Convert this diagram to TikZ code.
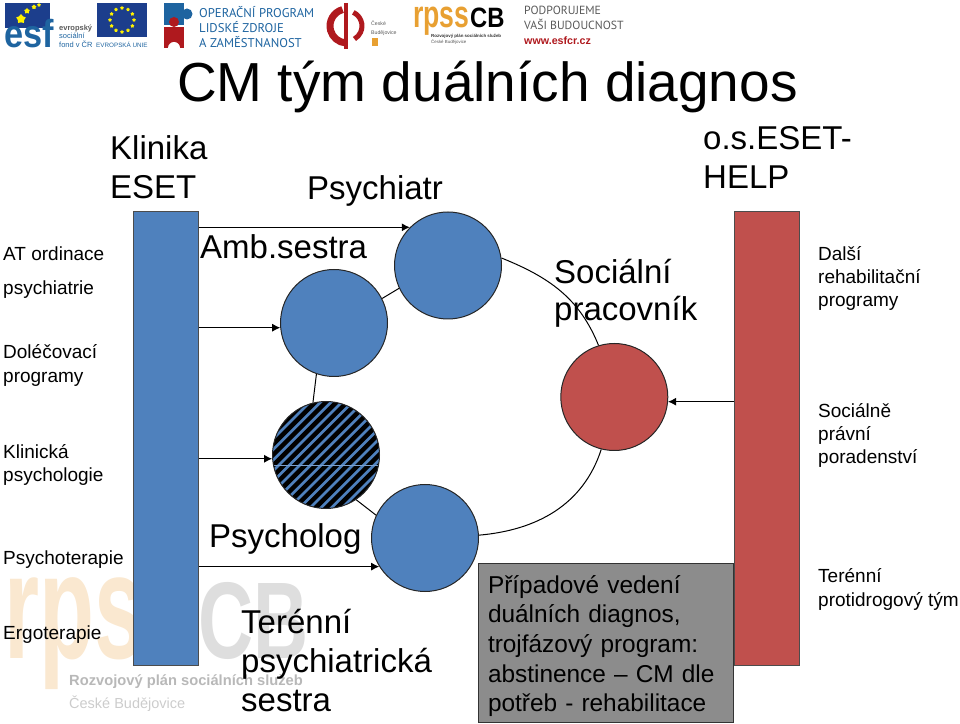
\documentclass[tikz,border=0pt]{standalone}
\usepackage{fontspec}
\setmainfont{Liberation Sans}
\newfontfamily\logosans{PT Sans}
\usepackage{xcolor}
\usetikzlibrary{arrows.meta, shapes.geometric}
\definecolor{cmblue}{RGB}{79,129,189}
\definecolor{cmred}{RGB}{192,80,77}
\definecolor{cmgray}{RGB}{140,140,140}
\definecolor{cmnavy}{RGB}{28,62,140}
\definecolor{cmsteel}{RGB}{30,100,160}
\definecolor{cmcrimson}{RGB}{175,25,30}
\definecolor{cmamber}{RGB}{232,160,50}
\definecolor{cmpeach}{RGB}{250,232,208}
\definecolor{cmsilver}{RGB}{222,222,222}
\definecolor{cmtext}{RGB}{90,90,90}
\tikzset{
  lblsmall/.style={anchor=base west, inner sep=0, font=\fontsize{19}{22}\selectfont},
  lblbig/.style={anchor=base west, inner sep=0, font=\fontsize{33}{39}\selectfont},
  logotxt/.style={anchor=base west, inner sep=0},
  squeezed/.style={transform shape, xscale=#1},
  teambar/.style={draw=black!70, line width=1pt, minimum width=65, minimum height=453, inner sep=0},
  teamcirc/.style={circle, draw=black!85, line width=1pt, minimum size=107, inner sep=0},
  arm/.style={black, line width=1pt, -{Latex[length=8,width=8]}},
  link/.style={black, line width=1pt},
  euflag/.style={star, star points=5, fill=#1, inner sep=0, minimum size=4},
}
\begin{document}
\begin{tikzpicture}[x=1pt, y=1pt]
\useasboundingbox (0,0) rectangle (960,723);

% ---- watermark ----
\node[logotxt, cmpeach, squeezed=0.6, font=\fontsize{150}{150}\bfseries\selectfont] (markrpss) at (4,65) {rpss};
\node[logotxt, cmsilver, squeezed=0.7, font=\fontsize{109}{109}\bfseries\selectfont] (markcb) at (198,65) {CB};
\node[logotxt, black!28, font=\fontsize{14.7}{18}\bfseries\selectfont] (markplan) at (69,38) {Rozvojový plán sociálních služeb};
\node[logotxt, black!20, font=\fontsize{14.5}{18}\selectfont] (marktown) at (69,15) {České Budějovice};

% ---- logos ----
% esf
\fill[cmnavy] (5,695) rectangle (50,720);
\node[logotxt, cmsteel, squeezed=0.88, font=\fontsize{39}{39}\bfseries\selectfont] (esfword) at (4,675) {esf};
\foreach \x/\y/\s [count=\i] in {21/704/10, 27/712/6, 34/716/5, 39/718/4}{
  \node[euflag=yellow, minimum size=\s] (esfstar\i) at (\x,\y) {};
}
\node[logotxt, cmtext, font=\fontsize{7.5}{9}\bfseries\selectfont] (esfa) at (59,692) {evropský};
\node[logotxt, cmsteel, font=\fontsize{7.5}{9}\selectfont] (esfb) at (59,684) {sociální};
\node[logotxt, cmsteel, font=\fontsize{7.5}{9}\selectfont] (esfc) at (59,675) {fond v ČR};
% eu flag
\fill[cmnavy] (97,686) rectangle (147,720);
\foreach \a [count=\i] in {0,30,...,330}{
  \node[euflag=yellow] (eustar\i) at ({122+12*cos(\a)},{703+12*sin(\a)}) {};
}
\node[logotxt, cmsteel, font=\fontsize{6.3}{8}\selectfont] (eutxt) at (96,675) {EVROPSKÁ UNIE};
% operacni program
\fill[cmsteel] (164,698) rectangle (184,720);
\fill[cmsteel] (187,709) circle (5.5);
\fill[cmcrimson] (164,675) rectangle (184,696);
\fill[cmcrimson] (174,701) circle (5);
\fill[white] (174,675) circle (6);
\foreach \y/\lbl [count=\i] in {705/OPERAČNÍ PROGRAM, 690/LIDSKÉ ZDROJE, 675/A ZAMĚSTNANOST}{
  \node[logotxt, cmsteel, font=\logosans\fontsize{12.7}{15}\selectfont] (optxt\i) at (199,\y) {\lbl};
}
% mesto
\draw[cmcrimson, line width=7] (342.6,713.4) arc[start angle=105, end angle=265, radius=17];
\draw[cmcrimson, line width=5] (353.3,710.6) arc[start angle=65, end angle=-60, radius=15];
\draw[cmcrimson, line width=4] (346,720) -- (346,674);
\node[logotxt, cmtext, font=\fontsize{5.2}{8}\selectfont] (cba) at (371,697) {České};
\node[logotxt, cmtext, font=\fontsize{5.2}{8}\selectfont] (cbb) at (371,688) {Budějovice};
\fill[cmamber] (372,677) rectangle (378,685);
% rpss
\node[logotxt, cmamber, squeezed=0.7, font=\fontsize{38}{38}\bfseries\selectfont] (rpssword) at (413,695) {rpss};
\node[logotxt, black, squeezed=0.85, font=\fontsize{28}{28}\bfseries\selectfont] (rpsscb) at (470,695) {CB};
\node[logotxt, black!80, font=\fontsize{4.4}{5}\bfseries\selectfont] (rpssa) at (431,685) {Rozvojový plán sociálních služeb};
\node[logotxt, cmtext, font=\fontsize{4.4}{5}\selectfont] (rpssb) at (431,679) {České Budějovice};
% podporujeme
\node[logotxt, cmtext, font=\logosans\fontsize{11.8}{15}\selectfont] (podpa) at (524,708) {PODPORUJEME};
\node[logotxt, cmtext, font=\logosans\fontsize{11.8}{15}\selectfont] (podpb) at (524,693) {VAŠI BUDOUCNOST};
\node[logotxt, cmcrimson, font=\fontsize{10.7}{14}\bfseries\selectfont] (podpc) at (524,678) {www.esfcr.cz};

% ---- title ----
\node[logotxt, font=\fontsize{55}{60}\selectfont] (title) at (177,621) {CM tým duálních diagnos};

% ---- team bars and circles ----
\node[teambar, fill=cmblue] (clinicbar) at (165.5,284.5) {};
\node[teambar, fill=cmred] (esetbar) at (767,284.5) {};

\node[teamcirc, fill=cmblue] (psychcirc) at (448,457.5) {};
\node[teamcirc, fill=cmblue] (nursecirc) at (334,400) {};
\node[teamcirc, fill=cmblue, path picture={
    \foreach \d in {-12,...,12}{
      \draw[black, line width=4.5, shift={(path picture bounding box.center)}]
        (\d*10.6-80,-80) -- (\d*10.6+80,80);
    }
    \draw[cmblue!75!white, line width=0.4, shift={(path picture bounding box.center)}] (-60,-10) -- (60,-10);
  }] (psycirc) at (326,268) {};
\node[teamcirc, fill=cmblue] (fieldcirc) at (425,185) {};
\node[teamcirc, fill=cmred] (socialcirc) at (614.3,326) {};

% arrows from the bars
\draw[arm] (clinicbar.east |- psychcirc.135) -- (psychcirc.135);
\draw[arm] (clinicbar.east |- nursecirc.185) -- (nursecirc.185);
\draw[arm] (clinicbar.east |- psycirc.184) -- (psycirc.184);
\draw[arm] (clinicbar.east |- fieldcirc.212) -- (fieldcirc.212);
\draw[arm] (esetbar.west |- socialcirc.355) -- (socialcirc.355);

% links round the ring
\draw[link] (nursecirc.27) -- (psychcirc.205);
\draw[link] (nursecirc.251) -- (psycirc.104);
\draw[link] (psycirc.304) -- (fieldcirc.155);
\draw[link] (fieldcirc.3) to[out=5, in=252] (socialcirc.256);
\draw[link] (psychcirc.8) to[out=-22, in=112] (socialcirc.107);

% ---- case box ----
\node[draw=black!80, fill=cmgray, line width=1pt, minimum width=255, minimum height=159, inner sep=0]
  (casebox) at (605.5,80.5) {};
\node[text width=235, inner sep=0, align=left, font=\fontsize{24.4}{29.7}\selectfont]
  (casetxt) at (605.5,77) {Případové vedení\\duálních diagnos,\\trojfázový program:\\abstinence – CM dle\\potřeb - rehabilitace};

% ---- big labels ----
\foreach \x/\y/\lbl [count=\i] in {
    110/563/Klinika,
    110/524/ESET,
    307/523/Psychiatr,
    200/464/Amb.sestra,
    554/439/Sociální,
    554/402/pracovník,
    703/573/{o.s.ESET-},
    703/534/HELP,
    209/176/Psycholog,
    241/90/Terénní,
    241/51/psychiatrická,
    241/12/sestra}{
  \node[lblbig] (biglbl\i) at (\x,\y) {\lbl};
}

% ---- small labels ----
\foreach \x/\y/\lbl [count=\i] in {
    3/462/AT ordinace,
    3/428/psychiatrie,
    3/364/Doléčovací,
    3/340/programy,
    3/264/Klinická,
    3/241/psychologie,
    3/159/Psychoterapie,
    3/84/Ergoterapie,
    818/462/Další,
    818/439/rehabilitační,
    818/416/programy,
    818/305/Sociálně,
    818/282/právní,
    818/259/poradenství,
    818/141/Terénní,
    818/117/protidrogový tým}{
  \node[lblsmall] (smalllbl\i) at (\x,\y) {\lbl};
}
\end{tikzpicture}
\end{document}
